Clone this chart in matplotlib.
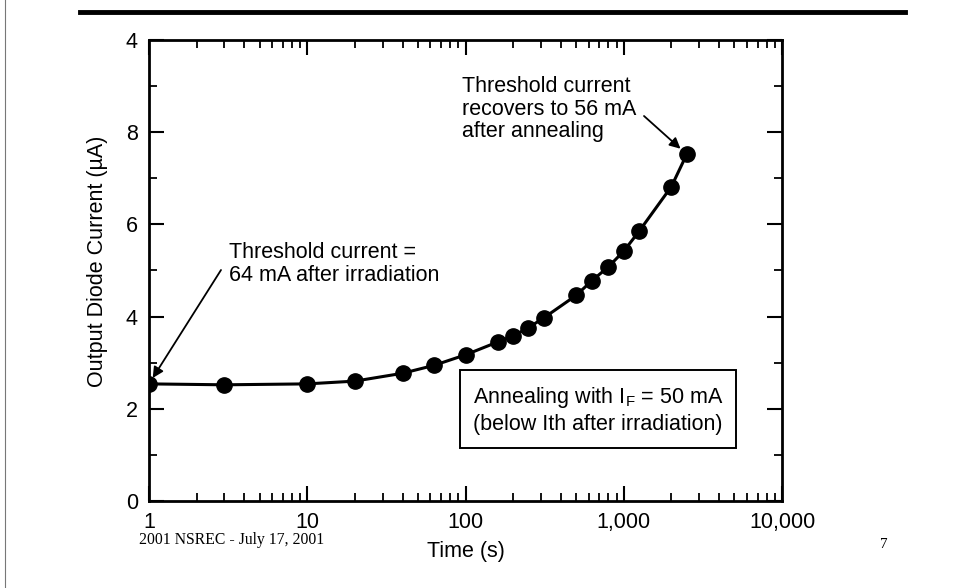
import numpy as np
import matplotlib
matplotlib.use('Agg')
import matplotlib.pyplot as plt
from matplotlib.ticker import FixedLocator, LogLocator, NullFormatter

plt.rcParams['font.family'] = ['Liberation Sans', 'DejaVu Sans']
plt.rcParams['mathtext.fontset'] = 'custom'
plt.rcParams['mathtext.rm'] = 'Liberation Sans'

# annealing data
time_s = [1, 3, 10, 20, 40, 63, 100, 160, 200, 250, 315, 500, 630, 800, 1000, 1250, 2000, 2500]
current_uA = [2.54, 2.52, 2.54, 2.60, 2.77, 2.94, 3.17, 3.45, 3.58, 3.76, 3.98,
              4.46, 4.78, 5.08, 5.42, 5.85, 6.82, 7.52]

x_ticks = [1, 10, 100, 1000, 10000]
x_labels = ['1', '10', '100', '1,000', '10,000']
y_ticks = [0, 2, 4, 6, 8, 10]
y_labels = ['0', '2', '4', '6', '8', '4']   # top label is "4" on the scan

FS = 15.5

fig = plt.figure(figsize=(9.6, 5.88), dpi=100)
ax = fig.add_axes([0.1552, 0.148, 0.6594, 0.784])

ax.plot(time_s, current_uA, '-', color='black', lw=2.2)
ax.plot(time_s, current_uA, 'o', color='black', ms=11)

ax.set_xscale('log')
ax.set_xlim(1, 10000)
ax.set_ylim(0, 10)
ax.xaxis.set_major_locator(FixedLocator(x_ticks))
ax.set_xticklabels(x_labels)
ax.xaxis.set_minor_locator(LogLocator(base=10, subs=np.arange(2, 10)))
ax.xaxis.set_minor_formatter(NullFormatter())
ax.set_yticks(y_ticks)
ax.set_yticklabels(y_labels)
ax.yaxis.set_minor_locator(FixedLocator([1, 3, 5, 7, 9]))

ax.tick_params(which='both', direction='in', top=True, right=True, labelsize=FS, pad=8)
ax.tick_params(which='major', length=11, width=1.5)
ax.tick_params(which='minor', length=5.5, width=1.3)
for s in ax.spines.values():
    s.set_linewidth(2)

ax.set_xlabel('Time (s)', fontsize=FS, labelpad=6)
ax.set_ylabel('Output Diode Current (\u00b5A)', fontsize=FS)
ax.yaxis.set_label_coords(-0.065, 0.52)

# left note + arrow to first point
fig.text(229 / 960, 1 - 242 / 588, 'Threshold current =\n64 mA after irradiation',
         fontsize=FS, ha='left', va='top', linespacing=1.1)
ax.annotate('', xy=(time_s[0], current_uA[0]), xytext=(221, 318), textcoords='figure pixels',
            arrowprops=dict(arrowstyle='-|>', color='black', lw=1.3,
                            shrinkA=0, shrinkB=5, mutation_scale=16))

# right note + arrow to last point
fig.text(462 / 960, 1 - 76 / 588, 'Threshold current\nrecovers to 56 mA\nafter annealing',
         fontsize=FS, ha='left', va='top', linespacing=1.1)
ax.annotate('', xy=(time_s[-1], current_uA[-1]), xytext=(644, 472), textcoords='figure pixels',
            arrowprops=dict(arrowstyle='-|>', color='black', lw=1.3,
                            shrinkA=0, shrinkB=6, mutation_scale=16))

fig.text(598 / 960, 1 - 410 / 588,
         'Annealing with I$_\\mathrm{F}$ = 50 mA\n(below Ith after irradiation)',
         fontsize=FS, ha='center', va='center', multialignment='left', linespacing=1.25,
         bbox=dict(boxstyle='square,pad=0.6', fc='white', ec='black', lw=1.4))

# slide decorations
fig.add_artist(plt.Line2D([80 / 960, 905 / 960], [1 - 12 / 588] * 2, color='black', lw=3.5))
fig.add_artist(plt.Line2D([5 / 960] * 2, [0, 1], color='#777777', lw=0.8))
fig.text(139 / 960, 1 - 540 / 588, '2001 NSREC - July 17, 2001', family='Liberation Serif',
         fontsize=11.3, ha='left', va='center')
fig.text(884 / 960, 1 - 544 / 588, '7', family='Liberation Serif', fontsize=11,
         ha='center', va='center')

fig.savefig('out.png', dpi=100)
